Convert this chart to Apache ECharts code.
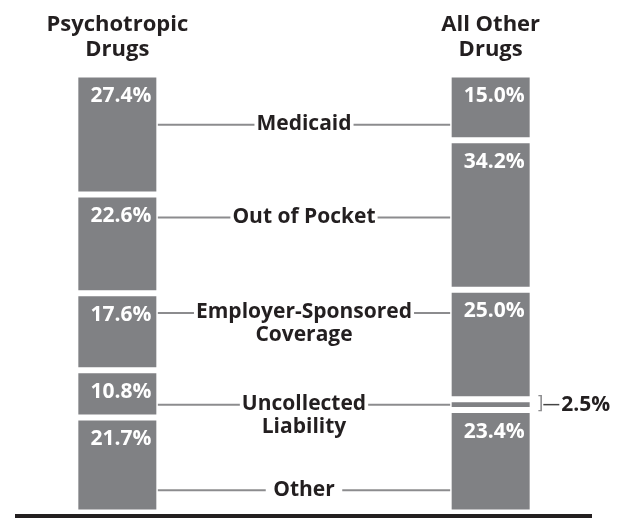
<!DOCTYPE html>
<html>
<head>
<meta charset="utf-8">
<script src="https://cdn.jsdelivr.net/npm/echarts@6/dist/echarts.min.js"></script>
<style>
  html, body { margin: 0; padding: 0; background: #fff; }
  #chart { width: 625px; height: 518px; }
</style>
</head>
<body>
<div id="chart"></div>
<script>
// columns (middle one holds the payer labels)
var columns = ['Psychotropic\nDrugs', '', 'All Other\nDrugs'];
var payers = ['Medicaid', 'Out of Pocket', 'Employer-Sponsored\nCoverage', 'Uncollected\nLiability', 'Other'];
var psychotropic = [27.4, 22.6, 17.6, 10.8, 21.7];
var allOther = [15.0, 34.2, 25.0, 2.5, 23.4];
// where each connector line sits, in % from the top of the bars
var linkAt = [11.5, 32.7, 54.5, 75.45, 95.0];

var BAR = '#808184';
var INK = '#231f20';
var LINK = '#8c8c8e';
var barWidth = 84;

var total = 0;
psychotropic.forEach(function (v) { total += v; });

var chart = echarts.init(document.getElementById('chart'));

var series = payers.map(function (name, i) {
  var right = { value: allOther[i] };
  if (allOther[i] < 5) {
    // too thin for an inside label: bracket + text to the right
    right.label = {
      show: true,
      position: 'right',
      distance: 4,
      padding: 0,
      formatter: '{br|]}{ln|}{v|' + allOther[i].toFixed(1) + '%}',
      rich: {
        br: { fontFamily: 'DejaVu Sans', fontWeight: 'normal', fontSize: 17, color: '#8c8c8e' },
        ln: { width: 16, height: 1.5, backgroundColor: '#444' },
        v: { fontSize: 21, fontWeight: 'bold', color: INK, padding: [0, 0, 0, 2] }
      }
    };
  }
  return {
    name: name,
    type: 'bar',
    stack: 'total',
    barWidth: barWidth,
    z: 2,
    itemStyle: { color: BAR, borderColor: '#fff', borderWidth: 3 },
    label: {
      show: true,
      position: 'insideTopRight',
      distance: 8,
      padding: [3, 0, 0, 0],
      color: '#fff',
      fontSize: 21,
      fontWeight: 'bold',
      formatter: function (p) { return p.value.toFixed(1) + '%'; }
    },
    data: [psychotropic[i], '-', right]
  };
});

// connector lines with the payer names in the middle
series.push({
  type: 'custom',
  z: 5,
  silent: true,
  data: linkAt.map(function (y, i) { return [1, y, i]; }),
  renderItem: function (params, api) {
    var y = api.coord([1, api.value(1)])[1];
    var x0 = api.coord([0, 0])[0] + barWidth / 2 - 1.5;
    var x1 = api.coord([2, 0])[0] - barWidth / 2 + 1.5;
    var cx = api.coord([1, 0])[0];
    var text = payers[api.value(2)];
    if (text === 'Other') text = ' Other ';
    return {
      type: 'group',
      children: [
        { type: 'line', shape: { x1: x0, y1: y, x2: x1, y2: y }, style: { stroke: LINK, lineWidth: 2 } },
        {
          type: 'text', x: cx, y: y - 12,
          style: {
            text: text, fill: INK, align: 'center', verticalAlign: 'top',
            fontSize: 21, fontWeight: 'bold', fontFamily: 'Open Sans',
            lineHeight: 23, backgroundColor: '#fff', padding: [0, 2]
          }
        }
      ]
    };
  }
});

chart.setOption({
  animation: false,
  textStyle: { fontFamily: 'Open Sans' },
  grid: { left: 24, right: 41, top: 74.5, bottom: 5.5 },
  xAxis: {
    type: 'category',
    position: 'top',
    data: columns,
    axisLine: { show: false },
    axisTick: { show: false },
    axisLabel: { color: INK, fontSize: 22, fontWeight: 'bold', lineHeight: 25, margin: 12, interval: 0 }
  },
  yAxis: { type: 'value', min: 0, max: total, inverse: true, show: false },
  graphic: [
    { type: 'rect', left: 15, top: 514, shape: { width: 577, height: 4 }, style: { fill: INK } }
  ],
  series: series
});
</script>
</body>
</html>
